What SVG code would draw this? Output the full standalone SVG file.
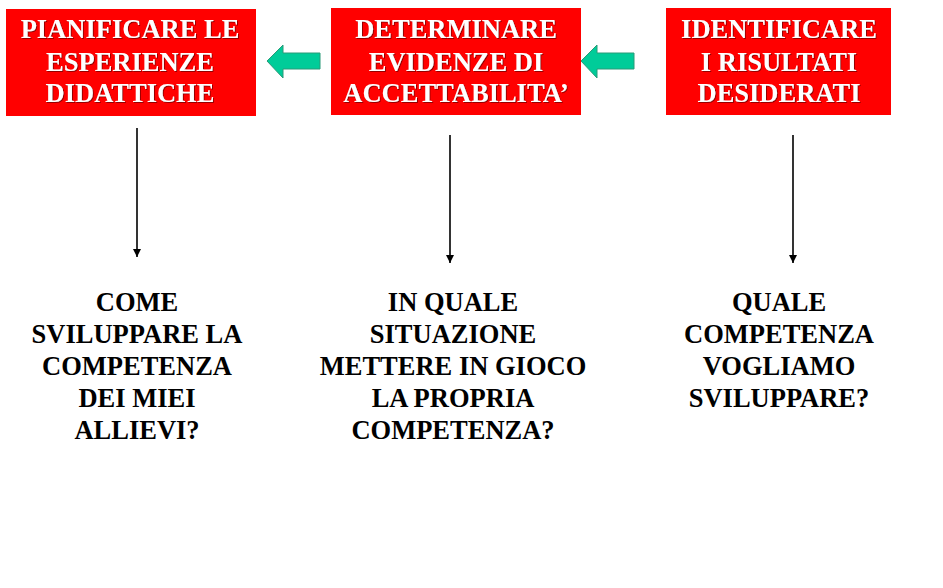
<svg xmlns="http://www.w3.org/2000/svg" width="943" height="588" viewBox="0 0 943 588">
<style>
.box{fill:#FF0000;}
.title{font-family:"Liberation Serif","Times New Roman",serif;font-weight:bold;font-size:26.5px;fill:#FFFFFF;text-anchor:middle;filter:url(#sh);}
.q{font-family:"Liberation Serif","Times New Roman",serif;font-weight:bold;font-size:26.5px;fill:#000000;text-anchor:middle;}
.garrow{fill:#00CC99;stroke:#2A9A78;stroke-width:1;}
.conn{stroke:#000000;stroke-width:1.6;fill:none;marker-end:url(#ah);}
</style>
<defs>
<filter id="sh" x="-5%" y="-20%" width="110%" height="140%">
<feDropShadow dx="1" dy="1" stdDeviation="0.4" flood-color="#7a0000" flood-opacity="0.8"/>
</filter>
<marker id="ah" markerWidth="8" markerHeight="8" viewBox="0 0 8 8" refX="8" refY="4" orient="auto" markerUnits="userSpaceOnUse">
<path d="M0,0 L8,4 L0,8 Z" fill="#000000"/>
</marker>
</defs>
<rect width="943" height="588" fill="#FFFFFF"/>

<g id="node-pianificare">
<rect class="box" x="6" y="9" width="250" height="107"/>
<text class="title" x="130" y="38">PIANIFICARE LE</text>
<text class="title" x="130" y="71">ESPERIENZE</text>
<text class="title" x="130" y="102">DIDATTICHE</text>
</g>

<g id="node-determinare">
<rect class="box" x="331" y="8" width="250" height="107"/>
<text class="title" x="456" y="38">DETERMINARE</text>
<text class="title" x="456" y="71">EVIDENZE DI</text>
<text class="title" x="456" y="102">ACCETTABILITA’</text>
</g>

<g id="node-identificare">
<rect class="box" x="666" y="8" width="225" height="107"/>
<text class="title" x="779" y="38">IDENTIFICARE</text>
<text class="title" x="779" y="71">I RISULTATI</text>
<text class="title" x="779" y="102">DESIDERATI</text>
</g>

<g id="node-q-left">
<text class="q" x="137" y="311">COME</text>
<text class="q" x="137" y="343">SVILUPPARE LA</text>
<text class="q" x="137" y="375">COMPETENZA</text>
<text class="q" x="137" y="407">DEI MIEI</text>
<text class="q" x="137" y="439">ALLIEVI?</text>
</g>

<g id="node-q-middle">
<text class="q" x="453" y="311">IN QUALE</text>
<text class="q" x="453" y="343">SITUAZIONE</text>
<text class="q" x="453" y="375">METTERE IN GIOCO</text>
<text class="q" x="453" y="407">LA PROPRIA</text>
<text class="q" x="453" y="439">COMPETENZA?</text>
</g>

<g id="node-q-right">
<text class="q" x="779" y="311">QUALE</text>
<text class="q" x="779" y="343">COMPETENZA</text>
<text class="q" x="779" y="375">VOGLIAMO</text>
<text class="q" x="779" y="407">SVILUPPARE?</text>
</g>

<g id="connectors">
<path class="garrow" d="M267,61 L283,45 L283,53 L320,53 L320,69 L283,69 L283,78 Z"/>
<path class="garrow" d="M581,61 L597,45 L597,53 L634,53 L634,69 L597,69 L597,78 Z"/>
<line class="conn" x1="137" y1="128" x2="137" y2="257"/>
<line class="conn" x1="450" y1="135" x2="450" y2="263"/>
<line class="conn" x1="793" y1="135" x2="793" y2="263"/>
</g>
</svg>
